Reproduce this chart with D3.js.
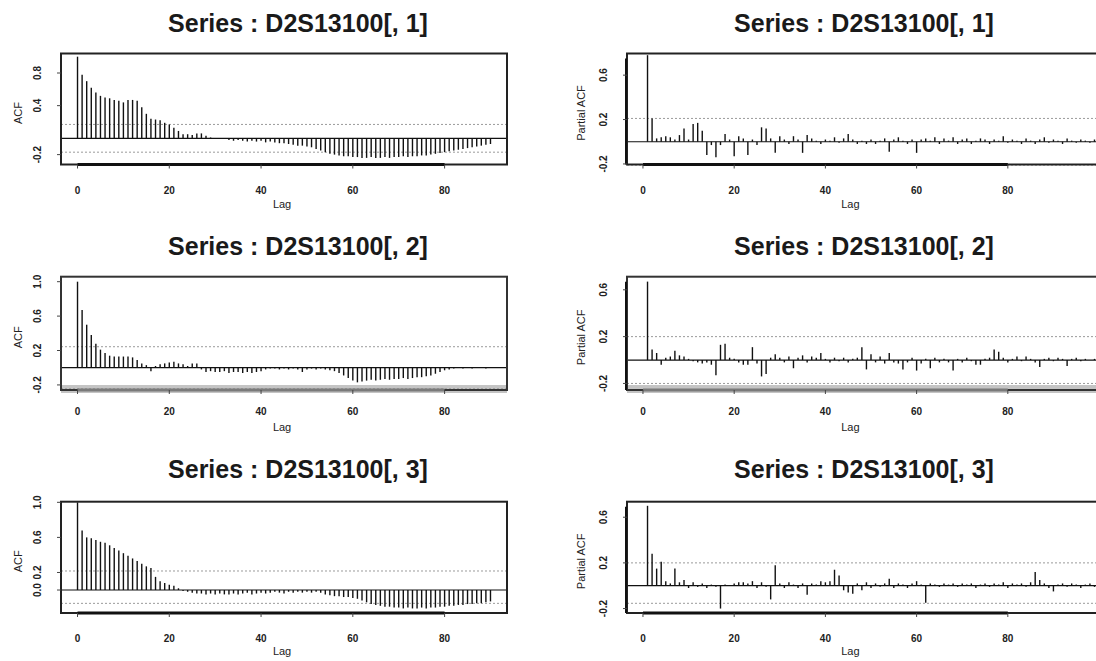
<!DOCTYPE html>
<html><head><meta charset="utf-8">
<script src="https://cdn.jsdelivr.net/npm/d3@7"></script>
<style>html,body{margin:0;padding:0;background:#fff;}svg{display:block;}</style>
</head><body>
<script>
// ---------- data ----------
const seriesTitles = ["Series : D2S13100[, 1]", "Series : D2S13100[, 2]", "Series : D2S13100[, 3]"];
const xTickValues = [0, 20, 40, 60, 80];

// ACF, lags 0..90
const acf1 = [1.00,0.78,0.70,0.62,0.56,0.52,0.50,0.49,0.47,0.46,0.44,0.47,0.47,0.46,0.38,0.30,0.24,0.23,0.22,0.19,
0.17,0.13,0.09,0.05,0.05,0.04,0.06,0.06,0.03,0.01,0.00,-0.01,0.00,-0.02,-0.03,-0.02,-0.03,-0.04,-0.03,-0.04,
-0.03,-0.05,-0.04,-0.05,-0.06,-0.06,-0.07,-0.08,-0.09,-0.09,-0.10,-0.11,-0.13,-0.15,-0.17,-0.19,-0.20,-0.21,-0.22,-0.22,
-0.23,-0.23,-0.24,-0.24,-0.23,-0.24,-0.24,-0.23,-0.24,-0.23,-0.23,-0.22,-0.23,-0.22,-0.22,-0.21,-0.21,-0.20,-0.19,-0.18,
-0.17,-0.16,-0.15,-0.14,-0.13,-0.12,-0.11,-0.10,-0.09,-0.08,-0.07];
const acf2 = [1.00,0.67,0.50,0.38,0.28,0.21,0.17,0.14,0.13,0.13,0.13,0.13,0.12,0.09,0.05,0.03,-0.04,0.02,0.04,0.05,
0.06,0.07,0.05,0.04,0.02,0.05,0.05,-0.02,-0.05,-0.04,-0.05,-0.05,-0.04,-0.06,-0.05,-0.05,-0.06,-0.05,-0.06,-0.05,
-0.04,-0.02,-0.01,-0.01,-0.02,-0.01,-0.02,-0.01,-0.02,-0.05,-0.02,-0.01,-0.02,-0.01,-0.02,-0.03,-0.04,-0.06,-0.09,-0.12,
-0.15,-0.17,-0.16,-0.15,-0.14,-0.15,-0.14,-0.13,-0.14,-0.13,-0.13,-0.12,-0.13,-0.12,-0.11,-0.11,-0.10,-0.09,-0.07,-0.05,
-0.03,-0.02,-0.01,0.00,-0.01,0.00,-0.01,0.00,0.00,-0.01,0.00];
const acf3 = [1.00,0.68,0.60,0.59,0.57,0.55,0.54,0.51,0.48,0.45,0.42,0.39,0.36,0.33,0.30,0.27,0.25,0.15,0.10,0.08,
0.06,0.05,0.02,-0.01,-0.02,-0.03,-0.04,-0.04,-0.05,-0.04,-0.05,-0.04,-0.05,-0.05,-0.04,-0.05,-0.04,-0.03,-0.05,-0.04,
-0.03,-0.04,-0.03,-0.02,-0.03,-0.04,-0.02,-0.03,-0.02,-0.03,-0.02,-0.03,-0.02,-0.03,-0.05,-0.06,-0.07,-0.07,-0.08,-0.08,
-0.09,-0.10,-0.12,-0.14,-0.16,-0.17,-0.18,-0.19,-0.19,-0.20,-0.20,-0.21,-0.20,-0.21,-0.21,-0.20,-0.21,-0.20,-0.20,-0.19,
-0.19,-0.18,-0.18,-0.17,-0.17,-0.16,-0.16,-0.15,-0.15,-0.14,-0.13];

// partial ACF, lags 1..100
const pacf1 = [0.78,0.21,0.03,0.04,0.05,0.04,0.02,0.06,0.12,0.02,0.16,0.17,0.10,-0.12,-0.03,-0.14,-0.03,0.07,0.02,-0.13,
0.05,0.03,-0.12,0.02,-0.03,0.13,0.12,0.03,-0.10,0.05,0.02,-0.02,0.05,0.02,-0.10,0.06,0.03,0.01,-0.02,0.02,
0.01,0.04,-0.01,0.03,0.07,0.02,-0.02,0.01,-0.02,0.02,-0.02,0.01,0.03,-0.09,0.02,0.04,0.01,-0.02,0.02,-0.10,
0.02,0.03,0.01,0.04,-0.02,0.03,0.01,0.04,-0.02,0.02,0.03,-0.02,0.01,0.03,0.02,-0.02,0.02,0.01,0.05,-0.01,
0.02,0.01,-0.02,0.03,0.01,-0.02,0.02,0.04,-0.01,0.02,0.01,-0.02,0.03,0.01,-0.01,0.02,0.01,-0.01,0.02,0.01];
const pacf2 = [0.67,0.09,0.06,-0.04,0.02,0.03,0.08,0.04,0.03,0.01,-0.01,-0.02,-0.03,-0.02,-0.04,-0.13,0.13,0.14,0.02,0.01,
-0.02,-0.04,-0.04,0.11,-0.03,-0.14,-0.12,0.02,0.05,0.02,-0.02,0.03,-0.07,0.02,0.04,-0.02,0.03,0.02,0.06,0.01,
-0.02,0.02,-0.01,0.02,-0.02,0.01,0.02,0.11,-0.08,0.05,-0.02,0.03,-0.03,0.06,-0.02,-0.03,-0.08,-0.02,0.02,-0.09,
-0.03,0.01,-0.07,0.02,-0.02,0.01,-0.02,-0.09,0.01,-0.02,0.02,-0.01,-0.04,-0.04,0.01,0.02,0.09,0.07,0.02,-0.02,
0.01,0.03,-0.01,0.03,0.01,-0.02,-0.06,0.01,0.02,-0.01,0.02,0.01,-0.05,0.01,0.02,-0.01,0.01,0.00,0.01,-0.01];
const pacf3 = [0.70,0.28,0.15,0.21,0.04,0.02,0.15,0.03,0.05,-0.02,0.03,-0.01,0.02,-0.02,0.01,-0.01,-0.20,0.01,0.00,0.02,
0.03,0.03,0.02,0.04,-0.02,0.03,-0.01,-0.12,0.18,0.02,-0.02,0.03,0.01,-0.02,0.02,-0.08,0.02,0.01,0.04,0.03,
0.04,0.14,0.09,-0.04,-0.06,-0.07,0.02,-0.04,0.03,-0.02,0.02,-0.01,0.02,0.06,-0.02,0.02,0.01,-0.02,0.02,0.04,
0.01,-0.15,0.02,0.01,-0.01,0.02,0.01,0.02,-0.01,0.02,0.01,0.02,-0.02,0.01,0.02,-0.01,0.02,0.01,0.03,-0.02,
0.02,0.01,0.02,-0.01,0.03,0.12,0.05,0.02,-0.02,-0.05,0.01,0.02,-0.01,0.02,0.01,-0.02,0.01,0.02,-0.01,0.01];

// confidence bounds and y-axis settings per panel
const ciUpper = [0.17, 0.21, 0.244, 0.20, 0.217, 0.20];
const ciLower = [-0.17, -0.21, -0.244, -0.20, -0.152, -0.154];
const yLims = [[-0.321,1.039],[-0.205,0.795],[-0.259,1.058],[-0.256,0.712],[-0.262,1.007],[-0.239,0.736]];
const yTicks = [[-0.2,0.4,0.8],[-0.2,0.2,0.6],[-0.2,0.2,0.6,1.0],[-0.2,0.2,0.6],[0.0,0.2,0.6,1.0],[-0.2,0.2,0.6]];

// ---------- layout ----------
const W = 1096, H = 661;
const svg = d3.select("body").append("svg").attr("width", W).attr("height", H)
  .style("font-family", "'Liberation Sans', Arial, sans-serif");

const colX = [
  {x0: 61, x1: 507, dom: [-3.6, 93.6], titleX: 298, yLabX: 18, yTickX: 37},
  {x0: 627, x1: 1115, dom: [-3.5, 103.5], titleX: 864, yLabX: 581, yTickX: 603}
];
const rowY = [
  {y0: 53.5, y1: 164.5, titleY: 23, tickY: 190, lagY: 204, band: false},
  {y0: 276.7, y1: 390, titleY: 246, tickY: 411.7, lagY: 427, band: true},
  {y0: 501.7, y1: 613, titleY: 469, tickY: 638, lagY: 651, band: false}
];

const panels = [];
[[acf1, pacf1],[acf2, pacf2],[acf3, pacf3]].forEach((pair, r) => {
  pair.forEach((vals, c) => {
    panels.push({r, c, vals, start: c === 0 ? 0 : 1, title: seriesTitles[r],
      ylab: c === 0 ? "ACF" : "Partial ACF"});
  });
});

panels.forEach((p, i) => {
  const C = colX[p.c], R = rowY[p.r];
  const x = d3.scaleLinear().domain(C.dom).range([C.x0, C.x1]);
  const y = d3.scaleLinear().domain(yLims[i]).range([R.y1, R.y0]);
  const g = svg.append("g");

  // title
  g.append("text").attr("x", C.titleX).attr("y", R.titleY)
    .attr("text-anchor", "middle").attr("dominant-baseline", "central")
    .style("font-size", "25px").style("font-weight", "bold").style("fill", "#1a1a1a").text(p.title);

  // gray band in middle row
  if (R.band) {
    g.append("rect").attr("x", C.x0).attr("y", R.y1 - 5).attr("width", C.x1 - C.x0).attr("height", 8)
      .attr("fill", "#c4c4c4");
  }

  // CI dashed lines
  [ciUpper[i], ciLower[i]].forEach(v => {
    g.append("line").attr("x1", C.x0).attr("x2", C.x1).attr("y1", y(v)).attr("y2", y(v))
      .attr("stroke", "#9a9a9a").attr("stroke-width", 1).attr("stroke-dasharray", "2,2");
  });

  // zero line
  g.append("line").attr("x1", C.x0).attr("x2", C.x1).attr("y1", y(0)).attr("y2", y(0))
    .attr("stroke", "#111").attr("stroke-width", 1.2);

  // bars
  g.selectAll("line.bar").data(p.vals).enter().append("line").attr("class", "bar")
    .attr("x1", (d, k) => x(k + p.start)).attr("x2", (d, k) => x(k + p.start))
    .attr("y1", y(0)).attr("y2", d => y(d))
    .attr("stroke", "#111").attr("stroke-width", 1.4);

  // box
  g.append("rect").attr("x", C.x0).attr("y", R.y0).attr("width", C.x1 - C.x0).attr("height", R.y1 - R.y0)
    .attr("fill", "none").attr("stroke", R.band ? "#333" : "#222").attr("stroke-width", 2);
  if (p.c === 1) {
    g.append("line").attr("x1", C.x0 - 1).attr("x2", C.x0 - 1).attr("y1", R.y0 + 5).attr("y2", R.y1)
      .attr("stroke", "#111").attr("stroke-width", 2);
  }

  // x axis line + ticks
  g.append("line").attr("x1", x(xTickValues[0])).attr("x2", x(xTickValues[xTickValues.length - 1]))
    .attr("y1", R.y1).attr("y2", R.y1)
    .attr("stroke", R.band ? "#7a7a7a" : "#111").attr("stroke-width", 3);
  g.selectAll("line.xt").data(xTickValues).enter().append("line").attr("class", "xt")
    .attr("x1", d => x(d)).attr("x2", d => x(d)).attr("y1", R.y1).attr("y2", R.y1 + 4)
    .attr("stroke", "#444").attr("stroke-width", 1);
  g.selectAll("text.xl").data(xTickValues).enter().append("text").attr("class", "xl")
    .attr("x", d => x(d)).attr("y", R.tickY).attr("text-anchor", "middle").attr("dominant-baseline", "central")
    .style("font-size", "10px").style("font-weight", "bold").style("fill", "#222").text(d => d);
  g.append("text").attr("x", (x(0) + x(80)) / 2 + (p.c === 0 ? 21 : 25)).attr("y", R.lagY)
    .attr("text-anchor", "middle").attr("dominant-baseline", "central")
    .style("font-size", "11px").style("fill", "#222").text("Lag");

  // y ticks
  g.selectAll("text.yl").data(yTicks[i]).enter().append("text").attr("class", "yl")
    .attr("transform", d => `translate(${C.yTickX},${y(d)}) rotate(-90)`)
    .attr("text-anchor", "middle").attr("dominant-baseline", "central")
    .style("font-size", "10px").style("font-weight", "bold").style("fill", "#222").text(d => d.toFixed(1));
  g.selectAll("line.yt").data(yTicks[i]).enter().append("line").attr("class", "yt")
    .attr("x1", C.x0 - 4).attr("x2", C.x0).attr("y1", d => y(d)).attr("y2", d => y(d))
    .attr("stroke", "#444").attr("stroke-width", 1);
  g.append("text")
    .attr("transform", `translate(${C.yLabX},${(R.y0 + R.y1) / 2 + 4}) rotate(-90)`)
    .attr("text-anchor", "middle").attr("dominant-baseline", "central")
    .style("font-size", "11px").style("fill", "#222").text(p.ylab);
});
</script>
</body></html>
